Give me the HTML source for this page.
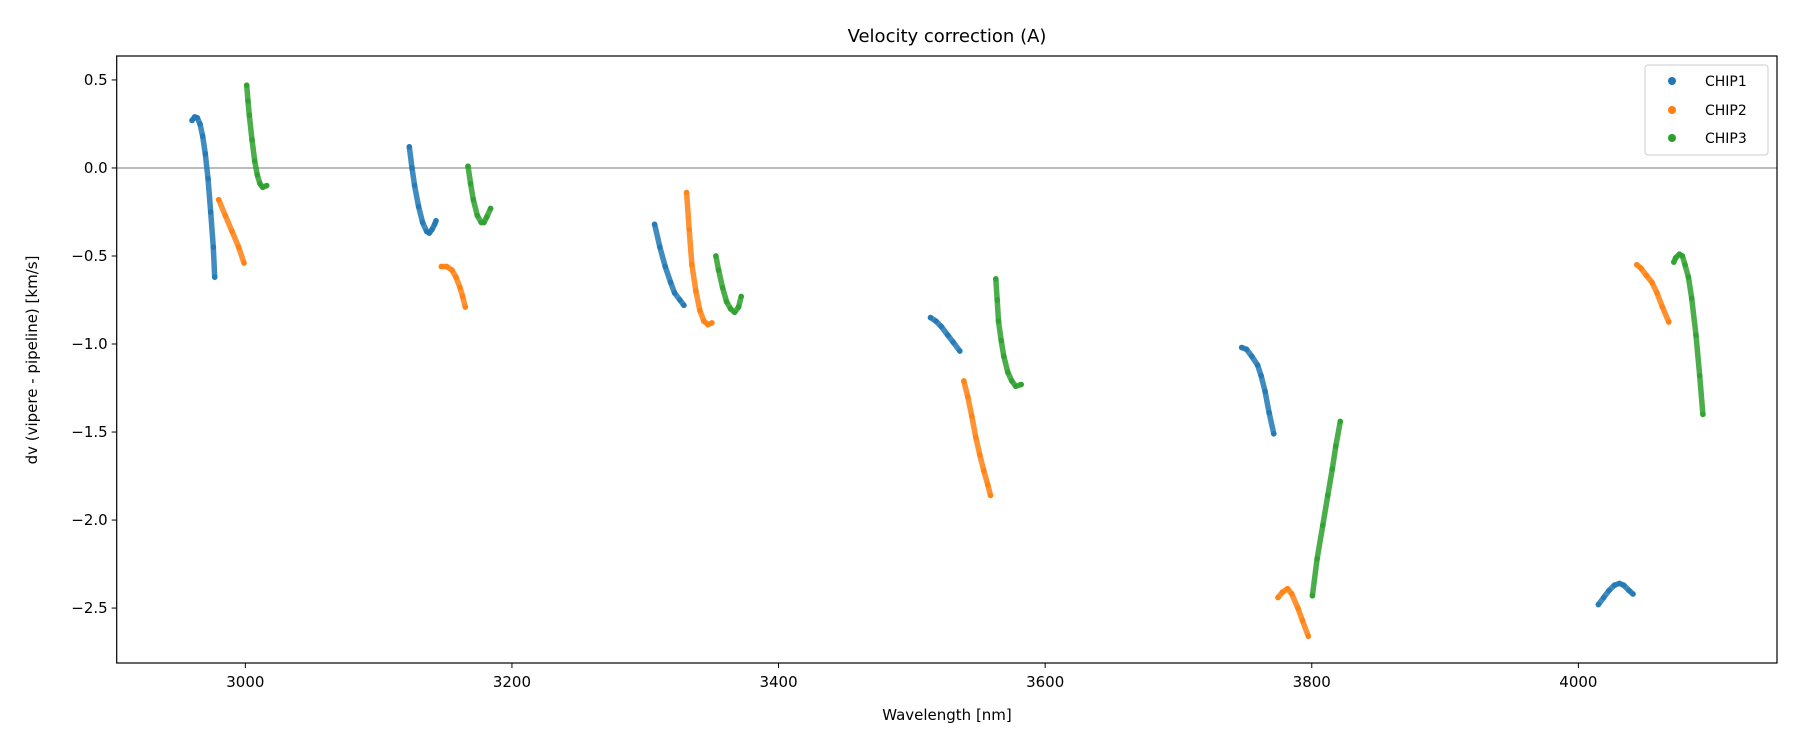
<!DOCTYPE html>
<html><head><meta charset="utf-8"><style>
html,body{margin:0;padding:0;background:#fff;}
svg{display:block;font-family:"DejaVu Sans","Liberation Sans",sans-serif;}
</style></head><body>
<svg id="chart" width="1800" height="750" viewBox="0 0 1800 750">
<text x="947" y="42" font-size="18" text-anchor="middle" fill="#000">Velocity correction (A)</text>
<g id="plot"></g>
<g id="axes"></g>
<text x="947" y="720" font-size="15" text-anchor="middle">Wavelength [nm]</text>
<text transform="translate(37,360) rotate(-90)" font-size="15" text-anchor="middle">dv (vipere - pipeline) [km/s]</text>
<g>
<rect x="1645" y="65" width="123" height="90" rx="3" fill="#fff" stroke="#ccc" stroke-width="1"/>
<g><circle cx="1672" cy="81" r="4" fill="#1f77b4"/><text x="1705" y="86" font-size="14">CHIP1</text></g>
<g><circle cx="1672" cy="110" r="4" fill="#ff7f0e"/><text x="1705" y="115" font-size="14">CHIP2</text></g>
<g><circle cx="1672" cy="138" r="4" fill="#2ca02c"/><text x="1705" y="143" font-size="14">CHIP3</text></g>
</g>
</svg>
<script>
const xTicks = [3000, 3200, 3400, 3600, 3800, 4000];
const yTicks = [0.5, 0.0, -0.5, -1.0, -1.5, -2.0, -2.5];
const yTickLabels = ["0.5", "0.0", "\u22120.5", "\u22121.0", "\u22121.5", "\u22122.0", "\u22122.5"];
const chip1Wl = [[2960,2962,2964,2966,2968,2970,2972,2974,2976,2977],[3123,3125,3127,3130,3133,3136,3138,3140,3142,3143],[3307,3311,3315,3319,3322,3326,3329],[3514,3518,3522,3527,3531,3536],[3747.4,3751,3755,3759.4,3762,3765,3768,3771.5],[4015,4019,4023,4027,4030.8,4034,4038,4041]];
const chip1Dv = [[0.27,0.29,0.285,0.25,0.18,0.08,-0.06,-0.25,-0.45,-0.62],[0.12,0.0,-0.1,-0.22,-0.31,-0.36,-0.37,-0.35,-0.32,-0.3],[-0.32,-0.45,-0.56,-0.65,-0.71,-0.75,-0.78],[-0.85,-0.87,-0.9,-0.95,-0.99,-1.04],[-1.02,-1.03,-1.07,-1.12,-1.18,-1.27,-1.39,-1.51],[-2.48,-2.44,-2.4,-2.37,-2.36,-2.37,-2.4,-2.42]];
const chip2Wl = [[2980,2985,2990,2995,2999],[3147,3151,3155,3158,3161,3163,3165],[3331,3333,3335,3338,3341,3344,3347,3350],[3539,3542,3545,3548,3551,3554,3557,3559],[3774.7,3778,3781.9,3785,3789.6,3793,3797.4],[4043.8,4047,4051,4055.2,4059,4063,4067.8]];
const chip2Dv = [[-0.18,-0.27,-0.36,-0.45,-0.54],[-0.56,-0.56,-0.58,-0.62,-0.68,-0.73,-0.79],[-0.14,-0.35,-0.55,-0.7,-0.81,-0.87,-0.89,-0.88],[-1.21,-1.3,-1.41,-1.53,-1.63,-1.72,-1.8,-1.86],[-2.44,-2.41,-2.39,-2.42,-2.5,-2.57,-2.66],[-0.55,-0.57,-0.61,-0.65,-0.71,-0.79,-0.875]];
const chip3Wl = [[3001,3002,3003,3005,3007,3009,3011,3013,3016],[3167,3169,3171,3174,3177,3179,3181,3184],[3353,3355,3358,3361,3364,3367,3370,3372],[3563,3564,3565,3567,3569,3572,3575,3578,3582],[3800.5,3804,3808.3,3812,3815.4,3818,3821.4],[4071.6,4073,4075.8,4078,4080,4082.5,4085,4088.2,4091,4093.4]];
const chip3Dv = [[0.47,0.38,0.3,0.16,0.04,-0.04,-0.09,-0.11,-0.1],[0.01,-0.09,-0.18,-0.27,-0.31,-0.31,-0.28,-0.23],[-0.5,-0.58,-0.68,-0.76,-0.8,-0.82,-0.79,-0.73],[-0.63,-0.75,-0.87,-0.98,-1.07,-1.16,-1.21,-1.24,-1.23],[-2.43,-2.22,-2.03,-1.86,-1.71,-1.58,-1.44],[-0.535,-0.51,-0.49,-0.5,-0.55,-0.62,-0.74,-0.95,-1.18,-1.4]];

const X0=116.7, X1=1777, Y0=56, Y1=663;
const xMin=2903.5, xMax=4149, yMin=-2.812, yMax=0.636;
function sx(v){return X0+(v-xMin)/(xMax-xMin)*(X1-X0);}
function sy(v){return Y0+(yMax-v)/(yMax-yMin)*(Y1-Y0);}
const NS="http://www.w3.org/2000/svg";
const plot=document.getElementById('plot'), axes=document.getElementById('axes');
function mk(tag,attrs,parent){const e=document.createElementNS(NS,tag);for(const k in attrs)e.setAttribute(k,attrs[k]);parent.appendChild(e);return e;}

const zl=mk('line',{x1:X0,x2:X1,y1:sy(0),y2:sy(0),stroke:'#7a7a7a','stroke-width':1},plot);



const series=[['chip1',chip1Wl,chip1Dv,'#1f77b4'],['chip2',chip2Wl,chip2Dv,'#ff7f0e'],['chip3',chip3Wl,chip3Dv,'#2ca02c']];
series.forEach(([name,wl,dv,col])=>{
  const g=mk('g',{},plot);
  
  
  wl.forEach((seg,i)=>{
    const pts=seg.map((w,j)=>sx(w).toFixed(1)+','+sy(dv[i][j]).toFixed(1)).join(' ');
    const pl=mk('polyline',{points:pts,fill:'none',stroke:col,'stroke-width':5.5,'stroke-linecap':'round','stroke-linejoin':'round','stroke-opacity':0.85},g);
    
    
    seg.forEach((w,j)=>{
      const c=mk('circle',{cx:sx(w),cy:sy(dv[i][j]),r:2.8,fill:col,'fill-opacity':0.8},g);
      
      
    });
  });
});

const frame=mk('rect',{x:X0,y:Y0,width:X1-X0,height:Y1-Y0,fill:'none',stroke:'#000','stroke-width':1.2},axes);


xTicks.forEach(t=>{
  const x=sx(t);
  const l=mk('line',{x1:x,x2:x,y1:Y1,y2:Y1+5,stroke:'#000','stroke-width':1},axes);
  
  
  const tx=mk('text',{x:x,y:Y1+24,'font-size':15,'text-anchor':'middle'},axes);
  tx.textContent=String(t);
  
  
});
yTicks.forEach((t,i)=>{
  const y=sy(t);
  const l=mk('line',{x1:X0-5,x2:X0,y1:y,y2:y,stroke:'#000','stroke-width':1},axes);
  
  
  const tx=mk('text',{x:X0-9,y:y+5,'font-size':15,'text-anchor':'end'},axes);
  tx.textContent=yTickLabels[i];
  
  
});
</script>
</body></html>
